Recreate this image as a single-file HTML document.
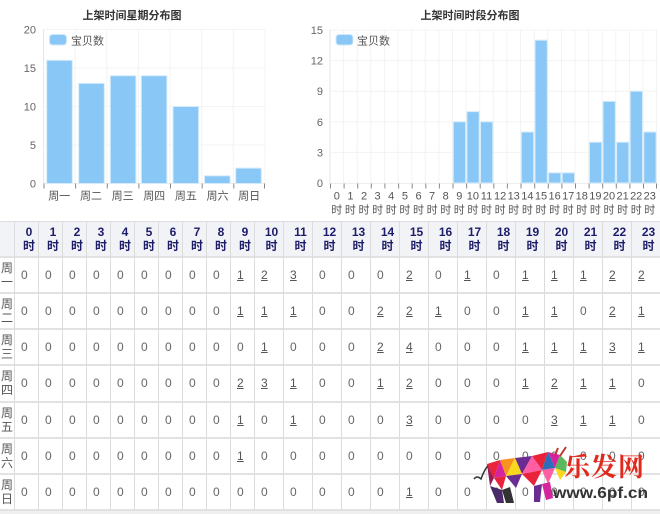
<!DOCTYPE html>
<html><head><meta charset="utf-8">
<style>
html,body{margin:0;padding:0;background:#fff;}
body{width:660px;height:514px;position:relative;overflow:hidden;font-family:"Liberation Sans","Noto Sans CJK SC",sans-serif;}
svg{position:absolute;left:0;top:0;}
.tbl{position:absolute;left:0;top:221px;width:661px;display:grid;grid-template-columns:15px repeat(10,24px) repeat(13,29px) 29px;grid-template-rows:36px repeat(7,36.15px);border-top:1px solid #dedede;}
.tbl div{box-sizing:border-box;border-right:1px solid #dcdcdc;border-bottom:2px solid #e2e2e2;font-size:12px;color:#666;display:flex;align-items:center;padding-left:6px;}
.tbl div.h{background:#f2f3f6;flex-direction:column;justify-content:center;padding-left:5px;font-weight:bold;color:#1c1c6b;line-height:14px;font-size:12px;}
.tbl div.r{padding-left:1px;flex-direction:column;justify-content:center;line-height:14px;color:#555;font-size:12px;align-items:flex-start;}
.u{text-decoration:underline;color:#555;}
.bot{position:absolute;left:0;top:511px;width:660px;height:3px;background:#efefef;}
</style></head><body>
<svg width="660" height="220" viewBox="0 0 660 220" font-family="Liberation Sans, Noto Sans CJK SC, sans-serif">
<!-- Left chart -->
<text x="132" y="19" font-size="11" font-weight="bold" fill="#333" text-anchor="middle">上架时间星期分布图</text>
<g stroke="#f3f3f3" stroke-width="1">
<line x1="43.5" y1="29.5" x2="265" y2="29.5"/><line x1="43.5" y1="68" x2="265" y2="68"/><line x1="43.5" y1="106.5" x2="265" y2="106.5"/><line x1="43.5" y1="145" x2="265" y2="145"/>
<line x1="75.1" y1="29.5" x2="75.1" y2="183.5"/><line x1="106.8" y1="29.5" x2="106.8" y2="183.5"/><line x1="138.4" y1="29.5" x2="138.4" y2="183.5"/><line x1="170" y1="29.5" x2="170" y2="183.5"/><line x1="201.7" y1="29.5" x2="201.7" y2="183.5"/><line x1="233.3" y1="29.5" x2="233.3" y2="183.5"/><line x1="265" y1="29.5" x2="265" y2="183.5"/>
</g>
<line x1="43.5" y1="29.5" x2="43.5" y2="183.5" stroke="#e6e6e6"/>
<line x1="43.5" y1="183.5" x2="265" y2="183.5" stroke="#eee"/>
<g stroke="#888" stroke-width="1">
<line x1="44" y1="183.5" x2="44" y2="188.5"/><line x1="75.6" y1="183.5" x2="75.6" y2="188.5"/><line x1="107.3" y1="183.5" x2="107.3" y2="188.5"/><line x1="138.9" y1="183.5" x2="138.9" y2="188.5"/><line x1="170.5" y1="183.5" x2="170.5" y2="188.5"/><line x1="202.2" y1="183.5" x2="202.2" y2="188.5"/><line x1="233.8" y1="183.5" x2="233.8" y2="188.5"/><line x1="264.5" y1="183.5" x2="264.5" y2="188.5"/>
</g>
<g font-size="11" fill="#666" text-anchor="end">
<text x="36" y="33.5">20</text><text x="36" y="72">15</text><text x="36" y="110.5">10</text><text x="36" y="149">5</text><text x="36" y="187.5">0</text>
</g>
<g fill="#89c8f6" stroke="#d6ecfc" stroke-width="1">
<rect x="46.7" y="60.3" width="25.6" height="123.2"/>
<rect x="78.7" y="83.4" width="25.6" height="100.1"/>
<rect x="110.3" y="75.7" width="25.6" height="107.8"/>
<rect x="141.3" y="75.7" width="25.6" height="107.8"/>
<rect x="173" y="106.5" width="25.6" height="77"/>
<rect x="204.5" y="175.8" width="25.6" height="7.7"/>
<rect x="235.7" y="168.1" width="25.6" height="15.4"/>
</g>
<g font-size="11" fill="#555" text-anchor="middle">
<text x="59.3" y="199.5">周一</text><text x="91" y="199.5">周二</text><text x="122.6" y="199.5">周三</text><text x="154.2" y="199.5">周四</text><text x="185.9" y="199.5">周五</text><text x="217.5" y="199.5">周六</text><text x="249.1" y="199.5">周日</text>
</g>
<rect x="49.5" y="34.5" width="17" height="10.5" rx="3" fill="#89c8f6" stroke="#cfe8fb"/>
<text x="71" y="44.5" font-size="11" fill="#555">宝贝数</text>

<!-- Right chart -->
<text x="470" y="19" font-size="11" font-weight="bold" fill="#333" text-anchor="middle">上架时间时段分布图</text>
<g stroke="#f3f3f3" stroke-width="1">
<line x1="330" y1="30" x2="657" y2="30"/><line x1="330" y1="60.6" x2="657" y2="60.6"/><line x1="330" y1="91.2" x2="657" y2="91.2"/><line x1="330" y1="121.8" x2="657" y2="121.8"/><line x1="330" y1="152.4" x2="657" y2="152.4"/>
<line x1="343.6" y1="30" x2="343.6" y2="183"/><line x1="357.2" y1="30" x2="357.2" y2="183"/><line x1="370.8" y1="30" x2="370.8" y2="183"/><line x1="384.4" y1="30" x2="384.4" y2="183"/><line x1="398.1" y1="30" x2="398.1" y2="183"/><line x1="411.7" y1="30" x2="411.7" y2="183"/><line x1="425.3" y1="30" x2="425.3" y2="183"/><line x1="438.9" y1="30" x2="438.9" y2="183"/><line x1="452.5" y1="30" x2="452.5" y2="183"/><line x1="466.1" y1="30" x2="466.1" y2="183"/><line x1="479.7" y1="30" x2="479.7" y2="183"/><line x1="493.3" y1="30" x2="493.3" y2="183"/><line x1="506.9" y1="30" x2="506.9" y2="183"/><line x1="520.5" y1="30" x2="520.5" y2="183"/><line x1="534.2" y1="30" x2="534.2" y2="183"/><line x1="547.8" y1="30" x2="547.8" y2="183"/><line x1="561.4" y1="30" x2="561.4" y2="183"/><line x1="575" y1="30" x2="575" y2="183"/><line x1="588.6" y1="30" x2="588.6" y2="183"/><line x1="602.2" y1="30" x2="602.2" y2="183"/><line x1="615.8" y1="30" x2="615.8" y2="183"/><line x1="629.4" y1="30" x2="629.4" y2="183"/><line x1="643" y1="30" x2="643" y2="183"/><line x1="656.6" y1="30" x2="656.6" y2="183"/>
</g>
<line x1="330" y1="30" x2="330" y2="183" stroke="#e6e6e6"/>
<line x1="330" y1="183.5" x2="657" y2="183.5" stroke="#eee"/>
<g stroke="#888" stroke-width="1">
<line x1="330.5" y1="183.5" x2="330.5" y2="188.5"/><line x1="344.1" y1="183.5" x2="344.1" y2="188.5"/><line x1="357.7" y1="183.5" x2="357.7" y2="188.5"/><line x1="371.3" y1="183.5" x2="371.3" y2="188.5"/><line x1="384.9" y1="183.5" x2="384.9" y2="188.5"/><line x1="398.6" y1="183.5" x2="398.6" y2="188.5"/><line x1="412.2" y1="183.5" x2="412.2" y2="188.5"/><line x1="425.8" y1="183.5" x2="425.8" y2="188.5"/><line x1="439.4" y1="183.5" x2="439.4" y2="188.5"/><line x1="453" y1="183.5" x2="453" y2="188.5"/><line x1="466.6" y1="183.5" x2="466.6" y2="188.5"/><line x1="480.2" y1="183.5" x2="480.2" y2="188.5"/><line x1="493.8" y1="183.5" x2="493.8" y2="188.5"/><line x1="507.4" y1="183.5" x2="507.4" y2="188.5"/><line x1="521" y1="183.5" x2="521" y2="188.5"/><line x1="534.7" y1="183.5" x2="534.7" y2="188.5"/><line x1="548.3" y1="183.5" x2="548.3" y2="188.5"/><line x1="561.9" y1="183.5" x2="561.9" y2="188.5"/><line x1="575.5" y1="183.5" x2="575.5" y2="188.5"/><line x1="589.1" y1="183.5" x2="589.1" y2="188.5"/><line x1="602.7" y1="183.5" x2="602.7" y2="188.5"/><line x1="616.3" y1="183.5" x2="616.3" y2="188.5"/><line x1="629.9" y1="183.5" x2="629.9" y2="188.5"/><line x1="643.5" y1="183.5" x2="643.5" y2="188.5"/><line x1="656.5" y1="183.5" x2="656.5" y2="188.5"/>
</g>
<g font-size="11" fill="#666" text-anchor="end">
<text x="323" y="34">15</text><text x="323" y="64.6">12</text><text x="323" y="95.2">9</text><text x="323" y="125.8">6</text><text x="323" y="156.4">3</text><text x="323" y="187">0</text>
</g>
<g fill="#89c8f6" stroke="#d6ecfc" stroke-width="1">
<rect x="453.3" y="121.8" width="12.3" height="61.2"/>
<rect x="466.9" y="111.6" width="12.3" height="71.4"/>
<rect x="480.5" y="121.8" width="12.3" height="61.2"/>
<rect x="521.3" y="132" width="12.3" height="51"/>
<rect x="535" y="40.2" width="12.3" height="142.8"/>
<rect x="548.6" y="172.8" width="12.3" height="10.2"/>
<rect x="562.2" y="172.8" width="12.3" height="10.2"/>
<rect x="589.4" y="142.2" width="12.3" height="40.8"/>
<rect x="603" y="101.4" width="12.3" height="81.6"/>
<rect x="616.6" y="142.2" width="12.3" height="40.8"/>
<rect x="630.2" y="91.2" width="12.3" height="91.8"/>
<rect x="643.8" y="132" width="12.3" height="51"/>
</g>
<g font-size="11" fill="#555" text-anchor="middle">
<text x="336.8" y="199.5">0</text><text x="350.4" y="199.5">1</text><text x="364" y="199.5">2</text><text x="377.6" y="199.5">3</text><text x="391.2" y="199.5">4</text><text x="404.9" y="199.5">5</text><text x="418.5" y="199.5">6</text><text x="432.1" y="199.5">7</text><text x="445.7" y="199.5">8</text><text x="459.3" y="199.5">9</text><text x="472.9" y="199.5">10</text><text x="486.5" y="199.5">11</text><text x="500.1" y="199.5">12</text><text x="513.7" y="199.5">13</text><text x="527.4" y="199.5">14</text><text x="541" y="199.5">15</text><text x="554.6" y="199.5">16</text><text x="568.2" y="199.5">17</text><text x="581.8" y="199.5">18</text><text x="595.4" y="199.5">19</text><text x="609" y="199.5">20</text><text x="622.6" y="199.5">21</text><text x="636.2" y="199.5">22</text><text x="649.8" y="199.5">23</text>
<text x="336.8" y="213.5">时</text><text x="350.4" y="213.5">时</text><text x="364" y="213.5">时</text><text x="377.6" y="213.5">时</text><text x="391.2" y="213.5">时</text><text x="404.9" y="213.5">时</text><text x="418.5" y="213.5">时</text><text x="432.1" y="213.5">时</text><text x="445.7" y="213.5">时</text><text x="459.3" y="213.5">时</text><text x="472.9" y="213.5">时</text><text x="486.5" y="213.5">时</text><text x="500.1" y="213.5">时</text><text x="513.7" y="213.5">时</text><text x="527.4" y="213.5">时</text><text x="541" y="213.5">时</text><text x="554.6" y="213.5">时</text><text x="568.2" y="213.5">时</text><text x="581.8" y="213.5">时</text><text x="595.4" y="213.5">时</text><text x="609" y="213.5">时</text><text x="622.6" y="213.5">时</text><text x="636.2" y="213.5">时</text><text x="649.8" y="213.5">时</text>
</g>
<rect x="336" y="34.5" width="17" height="10.5" rx="3" fill="#89c8f6" stroke="#cfe8fb"/>
<text x="357" y="44.5" font-size="11" fill="#555">宝贝数</text>
</svg>

<div class="tbl">
<div class="h"></div><div class="h"><span>0</span><span>时</span></div><div class="h"><span>1</span><span>时</span></div><div class="h"><span>2</span><span>时</span></div><div class="h"><span>3</span><span>时</span></div><div class="h"><span>4</span><span>时</span></div><div class="h"><span>5</span><span>时</span></div><div class="h"><span>6</span><span>时</span></div><div class="h"><span>7</span><span>时</span></div><div class="h"><span>8</span><span>时</span></div><div class="h"><span>9</span><span>时</span></div><div class="h"><span>10</span><span>时</span></div><div class="h"><span>11</span><span>时</span></div><div class="h"><span>12</span><span>时</span></div><div class="h"><span>13</span><span>时</span></div><div class="h"><span>14</span><span>时</span></div><div class="h"><span>15</span><span>时</span></div><div class="h"><span>16</span><span>时</span></div><div class="h"><span>17</span><span>时</span></div><div class="h"><span>18</span><span>时</span></div><div class="h"><span>19</span><span>时</span></div><div class="h"><span>20</span><span>时</span></div><div class="h"><span>21</span><span>时</span></div><div class="h"><span>22</span><span>时</span></div><div class="h"><span>23</span><span>时</span></div>

<div class="r"><span>周</span><span>一</span></div><div>0</div><div>0</div><div>0</div><div>0</div><div>0</div><div>0</div><div>0</div><div>0</div><div>0</div><div><span class="u">1</span></div><div><span class="u">2</span></div><div><span class="u">3</span></div><div>0</div><div>0</div><div>0</div><div><span class="u">2</span></div><div>0</div><div><span class="u">1</span></div><div>0</div><div><span class="u">1</span></div><div><span class="u">1</span></div><div><span class="u">1</span></div><div><span class="u">2</span></div><div><span class="u">2</span></div>

<div class="r"><span>周</span><span>二</span></div><div>0</div><div>0</div><div>0</div><div>0</div><div>0</div><div>0</div><div>0</div><div>0</div><div>0</div><div><span class="u">1</span></div><div><span class="u">1</span></div><div><span class="u">1</span></div><div>0</div><div>0</div><div><span class="u">2</span></div><div><span class="u">2</span></div><div><span class="u">1</span></div><div>0</div><div>0</div><div><span class="u">1</span></div><div><span class="u">1</span></div><div>0</div><div><span class="u">2</span></div><div><span class="u">1</span></div>

<div class="r"><span>周</span><span>三</span></div><div>0</div><div>0</div><div>0</div><div>0</div><div>0</div><div>0</div><div>0</div><div>0</div><div>0</div><div>0</div><div><span class="u">1</span></div><div>0</div><div>0</div><div>0</div><div><span class="u">2</span></div><div><span class="u">4</span></div><div>0</div><div>0</div><div>0</div><div><span class="u">1</span></div><div><span class="u">1</span></div><div><span class="u">1</span></div><div><span class="u">3</span></div><div><span class="u">1</span></div>

<div class="r"><span>周</span><span>四</span></div><div>0</div><div>0</div><div>0</div><div>0</div><div>0</div><div>0</div><div>0</div><div>0</div><div>0</div><div><span class="u">2</span></div><div><span class="u">3</span></div><div><span class="u">1</span></div><div>0</div><div>0</div><div><span class="u">1</span></div><div><span class="u">2</span></div><div>0</div><div>0</div><div>0</div><div><span class="u">1</span></div><div><span class="u">2</span></div><div><span class="u">1</span></div><div><span class="u">1</span></div><div>0</div>

<div class="r"><span>周</span><span>五</span></div><div>0</div><div>0</div><div>0</div><div>0</div><div>0</div><div>0</div><div>0</div><div>0</div><div>0</div><div><span class="u">1</span></div><div>0</div><div><span class="u">1</span></div><div>0</div><div>0</div><div>0</div><div><span class="u">3</span></div><div>0</div><div>0</div><div>0</div><div>0</div><div><span class="u">3</span></div><div><span class="u">1</span></div><div><span class="u">1</span></div><div>0</div>

<div class="r"><span>周</span><span>六</span></div><div>0</div><div>0</div><div>0</div><div>0</div><div>0</div><div>0</div><div>0</div><div>0</div><div>0</div><div><span class="u">1</span></div><div>0</div><div>0</div><div>0</div><div>0</div><div>0</div><div>0</div><div>0</div><div>0</div><div>0</div><div>0</div><div>0</div><div>0</div><div>0</div><div>0</div>

<div class="r"><span>周</span><span>日</span></div><div>0</div><div>0</div><div>0</div><div>0</div><div>0</div><div>0</div><div>0</div><div>0</div><div>0</div><div>0</div><div>0</div><div>0</div><div>0</div><div>0</div><div>0</div><div><span class="u">1</span></div><div>0</div><div>0</div><div>0</div><div>0</div><div>0</div><div>0</div><div>0</div><div>0</div>
</div>
<div class="bot"></div>

<svg width="660" height="514" viewBox="0 0 660 514" style="pointer-events:none">
<path d="M474 479 Q477 475 481 479 Q485 468 489 465" fill="none" stroke="#333" stroke-width="1.5"/>
<polygon points="487,464 500,460 494,478" fill="#e8233a"/>
<polygon points="500,460 515,458 506,476" fill="#f7941d"/>
<polygon points="494,478 500,460 506,476" fill="#d6249f"/>
<polygon points="515,458 532,456 522,474" fill="#6a2c91"/>
<polygon points="506,476 515,458 522,474" fill="#f9d71c"/>
<polygon points="532,456 548,452 542,470" fill="#e8233a"/>
<polygon points="522,474 532,456 542,470" fill="#ff5fa2"/>
<polygon points="548,452 560,455 555,468" fill="#d6249f"/>
<polygon points="542,470 548,452 555,468" fill="#2a6ebb"/>
<polygon points="555,468 560,455 567,462 566,472" fill="#5cb85c"/>
<polygon points="555,468 566,472 560,480" fill="#f9d71c"/>
<polygon points="487,464 494,478 490,486" fill="#9b1b5a"/>
<polygon points="494,478 506,476 502,490" fill="#e8233a"/>
<polygon points="506,476 522,474 516,488" fill="#6a2c91"/>
<polygon points="522,474 542,470 534,486" fill="#e8233a"/>
<polygon points="542,470 555,468 548,484" fill="#ff5fa2"/>
<polygon points="490,486 502,490 504,503 497,503" fill="#4a2a6a"/>
<polygon points="502,490 510,487 514,503 506,503" fill="#333"/>
<polygon points="534,486 542,484 540,502 534,502" fill="#6a2c91"/>
<polygon points="542,484 550,482 553,498 546,500" fill="#d6249f"/>
<path d="M555 455 L558 448 M560 456 L566 447" stroke="#c0392b" stroke-width="2"/>
<text x="564" y="476" font-size="26" font-weight="bold" fill="#e02a1e" font-family="Noto Serif CJK SC, Noto Sans CJK SC, serif" letter-spacing="1">乐发网</text>
<text x="553" y="498" font-size="16" font-weight="bold" fill="#333" font-family="Liberation Sans, sans-serif" textLength="95" lengthAdjust="spacingAndGlyphs">www.6pf.cn</text>
</svg>
</body></html>
